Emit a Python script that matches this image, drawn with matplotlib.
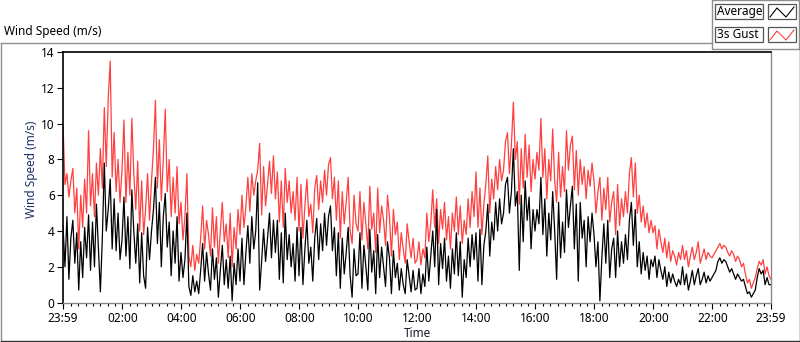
import numpy as np
import matplotlib.pyplot as plt
from matplotlib.patches import Rectangle
from matplotlib.lines import Line2D

plt.rcParams['font.family'] = ['Noto Sans', 'DejaVu Sans']

# Data: wind speed (m/s), one reading every 4 minutes from 23:59 to 23:59
gust = [
    10.0, 6.6, 7.2, 5.9, 6.8, 7.5, 5.0, 6.4, 3.0, 6.0, 4.2, 6.9, 5.0, 9.6, 5.4,
    7.2, 4.8, 7.8, 6.0, 8.6, 6.4, 10.9, 7.6, 11.4, 13.5, 7.0, 9.5, 6.2, 8.0, 5.6,
    7.4, 10.2, 5.6, 8.4, 6.0, 10.3, 7.2, 5.2, 7.9, 4.0, 6.8, 3.8, 5.2, 7.2, 4.6,
    6.8, 8.6, 11.3, 6.4, 9.1, 5.7, 8.0, 10.8, 6.2, 8.0, 4.8, 7.0, 5.0, 7.6, 4.4,
    5.6, 3.5, 4.8, 7.2, 2.6, 2.0, 3.2, 1.8, 2.7, 2.2, 3.6, 5.4, 3.0, 4.6, 3.8,
    2.6, 5.3, 3.1, 4.8, 2.2, 4.0, 5.6, 3.4, 4.4, 2.5, 5.0, 2.0, 4.2, 3.0, 5.2,
    3.8, 6.0, 4.2, 5.4, 7.0, 5.1, 7.2, 6.0, 6.8, 7.4, 8.9, 4.9, 7.6, 5.4, 6.6,
    7.9, 6.1, 8.2, 5.8, 7.3, 4.5, 6.8, 4.2, 7.5, 5.6, 6.8, 5.0, 6.2, 4.6, 7.0,
    4.0, 6.6, 3.6, 5.4, 6.9, 4.8, 5.5, 3.9, 6.4, 7.1, 5.2, 6.8, 5.6, 7.4, 6.0,
    7.7, 8.1, 5.8, 7.0, 4.6, 6.8, 3.6, 6.2, 4.4, 5.6, 7.0, 4.0, 3.3, 6.0, 4.4,
    4.0, 6.2, 3.5, 5.6, 4.4, 3.0, 6.5, 4.1, 5.0, 2.8, 6.4, 3.9, 5.4, 4.6, 3.2,
    6.0, 4.8, 2.6, 5.2, 3.8, 4.5, 2.4, 3.9, 3.0, 2.2, 4.4, 3.4, 2.5, 3.6, 2.2,
    2.4, 3.4, 2.1, 3.0, 2.5, 5.0, 3.4, 4.4, 6.3, 4.2, 5.8, 3.3, 5.2, 4.1, 5.6,
    3.5, 4.8, 3.0, 5.0, 4.0, 5.9, 3.8, 5.4, 3.3, 4.6, 3.8, 5.8, 4.2, 6.2, 4.8,
    7.3, 4.2, 6.4, 3.8, 5.5, 6.6, 8.2, 5.0, 6.9, 5.8, 7.6, 6.3, 8.0, 6.8, 7.4,
    9.0, 9.5, 7.2, 8.8, 11.2, 8.0, 9.0, 5.5, 8.6, 6.4, 9.4, 7.0, 8.8, 6.2, 8.0,
    6.9, 8.4, 7.4, 10.3, 7.0, 8.6, 5.8, 8.0, 6.8, 9.7, 6.8, 5.6, 8.4, 5.9, 7.6,
    6.2, 9.6, 7.4, 8.8, 9.3, 6.3, 8.5, 6.0, 8.0, 6.6, 7.6, 5.8, 7.4, 6.5, 7.8,
    6.8, 5.0, 6.2, 7.0, 4.6, 6.4, 5.2, 7.0, 4.5, 5.6, 6.2, 3.8, 6.6, 4.3, 5.8,
    4.8, 6.2, 5.0, 7.2, 8.1, 5.9, 7.8, 5.0, 6.0, 4.5, 5.4, 4.2, 5.0, 3.9, 4.6,
    3.9, 4.3, 3.0, 4.1, 3.4, 2.8, 3.6, 2.5, 3.4, 2.3, 2.9, 2.6, 2.1, 2.8, 2.4,
    3.2, 2.4, 2.9, 2.0, 2.6, 3.1, 2.4, 2.8, 3.4, 2.2, 2.6, 3.0, 2.4, 2.8, 2.6,
    2.5, 2.7, 2.9, 3.1, 3.3, 3.0, 3.2, 3.1, 2.8, 2.6, 2.9, 2.7, 2.3, 2.6, 2.4,
    2.0, 2.2, 1.6, 1.1, 1.3, 0.8, 1.1, 1.4, 1.9, 2.3, 2.1, 2.4, 1.6, 2.0, 1.5, 1.3,
]
average = [
    4.3, 2.0, 4.8, 1.3, 3.6, 4.6, 2.2, 3.9, 0.7, 3.4, 1.4, 4.2, 2.5, 4.9, 1.8,
    4.5, 2.0, 5.5, 3.0, 0.6, 3.6, 7.8, 4.0, 5.2, 6.9, 3.0, 5.8, 2.9, 5.0, 2.4,
    3.5, 5.9, 2.6, 4.8, 1.9, 6.3, 4.0, 2.2, 4.4, 1.1, 3.9, 1.5, 0.8, 4.2, 2.4,
    4.0, 5.2, 7.0, 3.3, 5.6, 2.0, 4.8, 6.1, 3.1, 4.5, 1.5, 4.0, 2.2, 4.8, 1.2,
    2.8, 1.4, 2.4, 5.0, 0.9, 0.4, 1.5, 0.6, 1.2, 0.5, 1.8, 3.3, 1.2, 2.8, 1.6,
    0.7, 3.0, 1.3, 2.5, 0.3, 1.8, 3.2, 1.0, 2.4, 0.8, 2.6, 0.1, 2.2, 1.0, 3.0,
    1.2, 3.6, 1.0, 2.8, 4.3, 2.2, 4.8, 3.0, 4.0, 6.7, 0.7, 2.3, 4.1, 2.3, 3.6,
    5.0, 2.5, 4.6, 2.8, 4.6, 1.3, 3.9, 1.1, 5.0, 2.4, 3.8, 2.0, 3.3, 1.2, 4.2,
    1.5, 4.2, 1.0, 3.0, 4.6, 2.2, 3.1, 1.2, 3.6, 4.7, 2.4, 4.4, 2.9, 5.0, 3.2,
    4.8, 5.4, 2.9, 4.2, 1.5, 3.9, 0.8, 3.6, 1.6, 2.8, 4.2, 1.5, 0.3, 3.0, 1.5,
    1.6, 3.9, 0.8, 3.2, 2.0, 0.7, 4.1, 1.7, 2.9, 0.5, 3.8, 1.4, 3.1, 2.0, 0.9,
    3.4, 2.5, 0.5, 2.9, 1.4, 2.2, 0.7, 1.9, 1.0, 0.5, 2.4, 1.5, 0.6, 1.8, 0.7,
    0.8, 1.9, 0.5, 1.6, 0.9, 3.1, 1.2, 2.6, 4.0, 2.0, 5.2, 1.0, 3.3, 1.9, 3.6,
    1.2, 2.6, 0.8, 3.0, 1.6, 3.9, 1.5, 3.4, 0.3, 2.4, 1.4, 3.6, 2.0, 3.8, 2.4,
    3.9, 1.2, 4.1, 1.0, 3.2, 4.0, 5.5, 2.6, 4.5, 3.5, 5.6, 4.0, 5.8, 4.4, 5.0,
    6.6, 7.0, 5.0, 6.2, 8.6, 5.4, 6.2, 1.8, 6.0, 3.4, 6.8, 4.6, 5.9, 3.0, 5.2,
    4.0, 5.2, 4.4, 7.0, 3.8, 5.8, 2.6, 5.0, 3.5, 6.2, 4.0, 1.3, 5.6, 2.5, 4.5,
    2.8, 6.3, 4.2, 5.4, 6.5, 3.0, 5.5, 1.2, 5.6, 3.6, 4.6, 2.0, 4.8, 3.4, 5.0,
    3.8, 2.0, 3.4, 0.1, 2.5, 4.4, 2.2, 4.6, 1.4, 3.0, 3.6, 1.4, 4.0, 2.0, 3.4,
    2.2, 3.8, 2.4, 4.6, 5.6, 3.2, 5.2, 2.0, 3.4, 1.6, 2.8, 1.8, 2.6, 1.3, 2.4,
    2.0, 2.6, 1.4, 2.4, 1.8, 1.3, 2.0, 0.9, 1.7, 1.1, 1.6, 1.2, 0.9, 1.3, 1.0,
    2.0, 1.0, 1.6, 0.7, 1.2, 1.8, 1.0, 1.5, 1.9, 1.0, 1.3, 1.7, 1.1, 1.5, 1.2,
    1.4, 1.6, 1.8, 2.3, 2.5, 2.2, 2.4, 2.3, 2.0, 1.7, 1.9, 1.6, 1.3, 1.6, 1.4,
    1.2, 1.3, 0.9, 0.5, 0.6, 0.3, 0.5, 0.7, 1.4, 1.9, 1.6, 1.8, 1.0, 1.4, 1.0, 1.0,
]
tick_labels = ['23:59', '02:00', '04:00', '06:00', '08:00', '10:00', '12:00',
               '14:00', '16:00', '18:00', '20:00', '22:00', '23:59']

# hours since midnight, starting one minute before
start = -1 / 60
t = start + np.arange(len(gust)) * 24 / (len(gust) - 1)

W, H = 800, 342
fig = plt.figure(figsize=(W / 100, H / 100), dpi=100)
fig.patch.set_facecolor('white')


def fx(x):
    return x / W


def fy(y):
    return 1 - y / H


ax = fig.add_axes([fx(63), fy(302.6), fx(771) - fx(63), fy(52) - fy(302.6)])
ax.plot(t, gust, color='#ff4040', lw=0.9)
ax.plot(t, average, color='black', lw=0.9)

ax.set_xlim(start, start + 24)
ax.set_ylim(0, 14)
ax.set_yticks(range(0, 15, 2))
ax.set_xticks([start] + list(range(2, 24, 2)) + [start + 24])
ax.set_xticklabels(tick_labels)
ax.set_xticks(np.arange(0, 24, 0.25), minor=True)
ax.tick_params(axis='both', direction='out', labelsize=8.5, colors='black', length=4, width=0.8, pad=2)
ax.tick_params(axis='x', which='minor', direction='out', length=2, width=0.8)
ax.tick_params(axis='x', pad=3)

for s in ['top', 'left']:
    ax.spines[s].set_color('black')
    ax.spines[s].set_linewidth(1.2)
for s in ['right', 'bottom']:
    ax.spines[s].set_color('#8a8a8a')
    ax.spines[s].set_linewidth(1.0)

ax.set_xlabel('Time', fontsize=8.5, color='#1a1a2e', labelpad=1)
ax.set_ylabel('Wind Speed (m/s)', fontsize=8.5, color='#1c2f66')
ax.yaxis.set_label_coords(-0.036, 0.53)

# title
fig.text(fx(4), fy(32), 'Wind Speed (m/s)', fontsize=8.5, color='black', va='center', ha='left')

# outer frame
gray = '#8f8f8f'
fig.add_artist(Line2D([fx(0.5), fx(712)], [fy(42.5), fy(42.5)], color=gray, lw=1))
fig.add_artist(Line2D([fx(0.5), fx(0.5)], [fy(42.5), fy(341)], color=gray, lw=1))
fig.add_artist(Line2D([fx(0.5), fx(799.5)], [fy(341), fy(341)], color='#333333', lw=1))
fig.add_artist(Line2D([fx(799.5), fx(799.5)], [fy(49), fy(341)], color='#333333', lw=1))

# legend panel
fig.add_artist(Rectangle((fx(712), fy(49)), fx(799) - fx(712), fy(0) - fy(49),
                         facecolor='white', edgecolor=gray, lw=1))
legend = [('Average', 'black', 4), ('3s Gust', '#ff4040', 27)]
for name, col, y0 in legend:
    fig.add_artist(Rectangle((fx(715), fy(y0 + 15)), fx(763) - fx(715), fy(y0) - fy(y0 + 15),
                             facecolor='#fbfbfb', edgecolor='#555555', lw=0.9))
    fig.text(fx(717), fy(y0 + 7.8), name, fontsize=8.5, va='center', ha='left', color='black')
    fig.add_artist(Rectangle((fx(768), fy(y0 + 15)), fx(796) - fx(768), fy(y0) - fy(y0 + 15),
                             facecolor='white', edgecolor='#555555', lw=0.9))
    zx = [770, 777, 786, 794]
    zy = [y0 + 13, y0 + 4, y0 + 13, y0 + 3]
    fig.add_artist(Line2D([fx(v) for v in zx], [fy(v) for v in zy], color=col, lw=0.8))

plt.savefig('out.png', dpi=100)
